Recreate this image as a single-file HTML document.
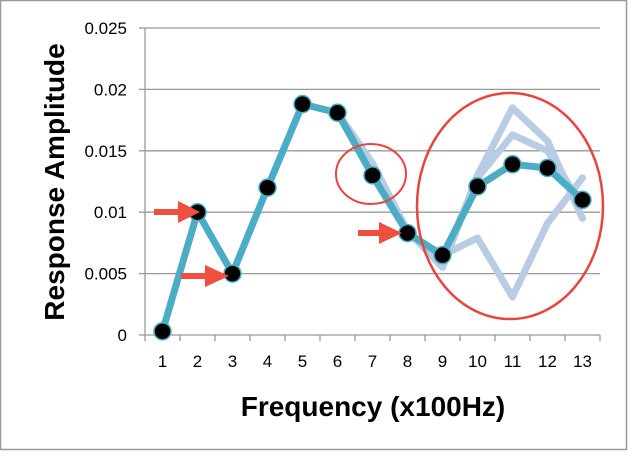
<!DOCTYPE html>
<html><head><meta charset="utf-8"><style>
html,body{margin:0;padding:0;background:#fff;}
svg{display:block;font-family:"Liberation Sans",sans-serif;}
</style></head><body>
<svg id="chart" width="629" height="452" viewBox="0 0 629 452">
<rect x="0.5" y="0.5" width="626" height="449" fill="#fff" stroke="#999" stroke-width="1.5"/>
<g id="grid"></g>
<g id="axes"></g>
<g id="series"></g>
<text transform="translate(64,182) rotate(-90)" text-anchor="middle" font-size="28" font-weight="bold">Response Amplitude</text>
<text x="373" y="416" text-anchor="middle" font-size="28" font-weight="bold">Frequency (x100Hz)</text>
<ellipse cx="371" cy="174" rx="35" ry="30" fill="none" stroke="#e8453c" stroke-width="2"/>
<ellipse cx="510" cy="206" rx="93" ry="113" fill="none" stroke="#e8453c" stroke-width="2.5"/>
<g><rect x="154" y="209" width="28" height="6" fill="#f04e3e"/><polygon points="178,201 200,212 178,223" fill="#f04e3e"/></g>
<g><rect x="181" y="273" width="28" height="6" fill="#f04e3e"/><polygon points="205,265 229,276 205,287" fill="#f04e3e"/></g>
<g><rect x="358" y="230" width="24" height="6" fill="#f04e3e"/><polygon points="379,222 402,233 379,244" fill="#f04e3e"/></g>
</svg>
<script>
const categories=[1,2,3,4,5,6,7,8,9,10,11,12,13];
const mainValues=[0.0003,0.01,0.005,0.012,0.0188,0.0181,0.013,0.0083,0.0065,0.0121,0.0139,0.0136,0.011];
const ghostA=[null,null,null,null,null,0.0181,0.0140,0.0085,0.0055,0.0130,0.0185,0.0158,0.0095];
const ghostB=[null,null,null,null,null,0.0181,0.0135,0.0083,0.0060,0.0128,0.0163,0.0150,0.0105];
const ghostC=[null,null,null,null,null,null,null,0.0083,0.0065,0.0079,0.0031,0.0091,0.0128];
const yTicks=[0,0.005,0.01,0.015,0.02,0.025];
const yTickLabels=["0","0.005","0.01","0.015","0.02","0.025"];

const NS="http://www.w3.org/2000/svg";
const X0=145,X1=600,Y0=335,Y1=28,YMAX=0.025;
const step=(X1-X0)/categories.length;
function xs(i){return X0+step*(i+0.5);}
function ys(v){return Y0-(v/YMAX)*(Y0-Y1);}
function mk(tag,attrs,parent){const e=document.createElementNS(NS,tag);for(const k in attrs)e.setAttribute(k,attrs[k]);parent.appendChild(e);return e;}
const grid=document.getElementById('grid'),axes=document.getElementById('axes'),ser=document.getElementById('series');
yTicks.forEach((t,i)=>{
  const y=ys(t);
  if(t>0){const g=mk('line',{x1:X0,x2:X1,y1:y,y2:y,stroke:'#999','stroke-width':1.3},grid);
  
  }
  const tk=mk('line',{x1:X0-6,x2:X0,y1:y,y2:y,stroke:'#999','stroke-width':1.3},axes);
  
  
  const lb=mk('text',{x:X0-18,y:y+6,'text-anchor':'end','font-size':17},axes);
  lb.textContent=yTickLabels[i];
  
  
});
const ya=mk('line',{x1:X0,x2:X0,y1:Y1,y2:Y0,stroke:'#999','stroke-width':1.3},axes);


const xa=mk('line',{x1:X0,x2:X1,y1:Y0,y2:Y0,stroke:'#999','stroke-width':1.3},axes);


for(let i=0;i<=categories.length;i++){
  const x=X0+step*i;
  const tk=mk('line',{x1:x,x2:x,y1:Y0,y2:Y0+6,stroke:'#999','stroke-width':1.3},axes);
  
  
}
categories.forEach((c,i)=>{
  const lb=mk('text',{x:xs(i),y:Y0+32,'text-anchor':'middle','font-size':17},axes);
  lb.textContent=c;
  
  
});
function pts(arr){return arr.map((v,i)=>v==null?null:xs(i)+','+ys(v)).filter(p=>p).join(' ');}
[ghostA,ghostB,ghostC].forEach((arr,k)=>{
  const p=mk('polyline',{points:pts(arr),fill:'none',stroke:'#b8cce4','stroke-width':7,'stroke-linejoin':'round','stroke-linecap':'round'},ser);
  
  
});
const ml=mk('polyline',{points:pts(mainValues),fill:'none',stroke:'#4bacc6','stroke-width':7,'stroke-linejoin':'round'},ser);


mainValues.forEach((v,i)=>{
  const c=mk('circle',{cx:xs(i),cy:ys(v),r:8.5,fill:'#000',stroke:'#4bacc6','stroke-width':1.5},ser);
  
  
});
</script>
</body></html>
